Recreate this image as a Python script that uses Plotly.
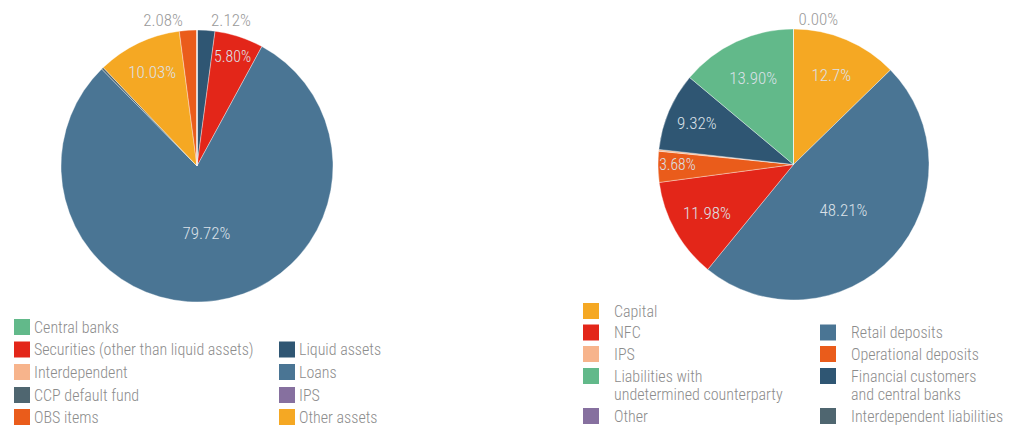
import plotly.graph_objects as go

W, H = 1011, 429
FONT = "Roboto Condensed, DejaVu Sans Condensed, sans-serif"

# ---- Assets (left pie), clockwise from 12 o'clock ----
asset_labels = ["Liquid assets", "Securities (other than liquid assets)", "Loans",
                "CCP default fund", "Other assets", "OBS items",
                "Central banks", "Interdependent", "IPS"]
asset_values = [2.12, 5.80, 79.72, 0.25, 10.03, 2.08, 0.0, 0.0, 0.0]
asset_text = ["2.12%", "5.80%", "79.72%", "", "10.03%", "2.08%", "", "", ""]
asset_textpos = ["outside", "inside", "inside", "none", "inside", "outside",
                 "none", "none", "none"]

# ---- Liabilities (right pie), clockwise from 12 o'clock ----
liab_labels = ["Capital", "Retail deposits", "NFC", "Operational deposits", "IPS",
               "Financial customers and central banks",
               "Liabilities with undetermined counterparty", "Other"]
liab_values = [12.7, 48.21, 11.98, 3.68, 0.21, 9.32, 13.90, 0.0]
liab_text = ["12.7%", "48.21%", "11.98%", "3.68%", "", "9.32%", "13.90%", "0.00%"]
liab_textpos = ["inside", "inside", "inside", "inside", "none", "inside", "inside",
                "outside"]

ASSET_COLORS = {
    "Central banks": "#62b98a",
    "Securities (other than liquid assets)": "#e32619",
    "Interdependent": "#f7b48c",
    "CCP default fund": "#4f6670",
    "OBS items": "#ea5c1b",
    "Liquid assets": "#2f5673",
    "Loans": "#4a7594",
    "IPS": "#86709f",
    "Other assets": "#f5a823",
}
LIAB_COLORS = {
    "Capital": "#f5a823",
    "NFC": "#e32619",
    "IPS": "#f7b48c",
    "Liabilities with undetermined counterparty": "#62b98a",
    "Other": "#86709f",
    "Retail deposits": "#4a7594",
    "Operational deposits": "#ea5c1b",
    "Financial customers and central banks": "#2f5673",
    "Interdependent liabilities": "#4f6670",
}

# legend entries: (label, column, row); "|" splits a label over two lines
left_legend = [("Central banks", 0, 0), ("Securities (other than liquid assets)", 0, 1),
               ("Interdependent", 0, 2), ("CCP default fund", 0, 3), ("OBS items", 0, 4),
               ("Liquid assets", 1, 1), ("Loans", 1, 2), ("IPS", 1, 3),
               ("Other assets", 1, 4)]
right_legend = [("Capital", 0, 0), ("NFC", 0, 1), ("IPS", 0, 2),
                ("Liabilities with|undetermined counterparty", 0, 3), ("Other", 0, 4),
                ("Retail deposits", 1, 1), ("Operational deposits", 1, 2),
                ("Financial customers|and central banks", 1, 3),
                ("Interdependent liabilities", 1, 4)]


def px(x):
    return x / W


def py(y):
    return 1 - y / H


def dom(cx, cy, r):
    return dict(x=[px(cx - r), px(cx + r)], y=[py(cy + r), py(cy - r)])


def pie(labels, values, text, textpos, colors, domain):
    return go.Pie(
        labels=labels, values=values, text=text,
        textinfo="text", textposition=textpos, sort=False,
        direction="clockwise", rotation=0, hoverinfo="skip",
        marker=dict(colors=[colors[l] for l in labels],
                    line=dict(color="rgba(255,255,255,0.6)", width=0.6)),
        insidetextorientation="horizontal",
        insidetextfont=dict(family=FONT, size=17, weight=300, color="#dbe1e8"),
        outsidetextfont=dict(family=FONT, size=17, weight=300, color="#9a9a9a"),
        domain=domain, showlegend=False,
    )


fig = go.Figure()
fig.add_trace(pie(asset_labels, asset_values, asset_text, asset_textpos,
                  ASSET_COLORS, dom(197, 166, 136)))
fig.add_trace(pie(liab_labels, liab_values, liab_text, liab_textpos,
                  LIAB_COLORS, dom(793.5, 164.5, 135.5)))

shapes = []
annotations = []


def add_legend(entries, colors, sq_x, txt_x, row_y, line_gap):
    for lbl, col, row in entries:
        color = colors[lbl.replace("|", " ")]
        y = row_y[row]
        x0 = sq_x[col]
        shapes.append(dict(type="rect", xref="paper", yref="paper",
                           x0=px(x0), x1=px(x0 + 16), y0=py(y + 8), y1=py(y - 8),
                           fillcolor=color, line=dict(width=0)))
        for k, line in enumerate(lbl.split("|")):
            annotations.append(dict(
                xref="paper", yref="paper", x=px(txt_x[col]), y=py(y + k * line_gap),
                xanchor="left", yanchor="middle", showarrow=False, text=line,
                font=dict(family=FONT, size=16, weight=300, color="#8c8c8c")))


add_legend(left_legend, ASSET_COLORS, sq_x=[14, 279], txt_x=[32, 297],
           row_y=[327, 349.5, 372, 395, 417], line_gap=18)
add_legend(right_legend, LIAB_COLORS, sq_x=[583, 820], txt_x=[612, 849],
           row_y=[311, 332.5, 354, 376, 416], line_gap=18)

fig.update_layout(
    width=W, height=H, margin=dict(l=0, r=0, t=0, b=0),
    paper_bgcolor="white", plot_bgcolor="white",
    shapes=shapes, annotations=annotations, showlegend=False,
)

fig.write_html("out.html")
